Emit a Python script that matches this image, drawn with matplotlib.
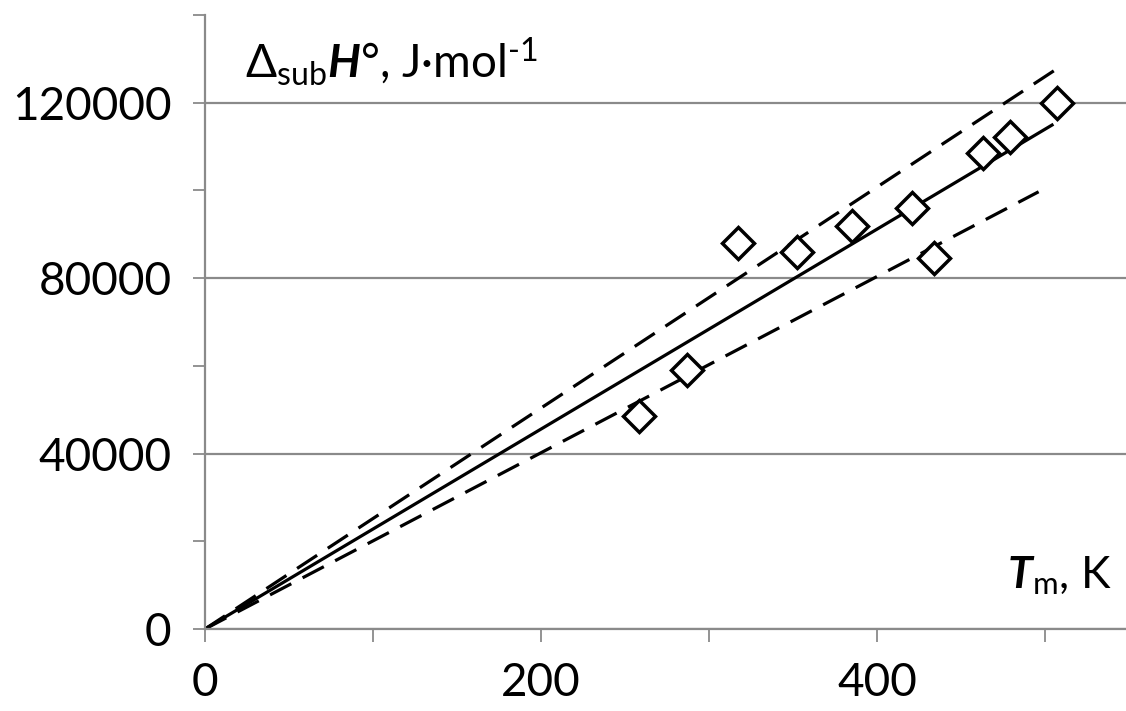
import matplotlib.pyplot as plt
import numpy as np

# data
T_m = [258.5, 287, 317, 352, 385, 420.5, 433.5, 463, 479, 507]
dH_sub = [48500, 59000, 88000, 85900, 92000, 96000, 84600, 108600, 112200, 120000]

# fitted line through origin plus upper / lower bounds
fit_x = [0, 504]
fit_slope = 228
upper_x = [0, 508]
upper_slope = 252
lower_x = [0, 496]
lower_slope = 201

plt.rcParams['font.family'] = ['Lato', 'DejaVu Sans']
plt.rcParams['mathtext.fontset'] = 'custom'
plt.rcParams['mathtext.rm'] = 'Lato'
plt.rcParams['mathtext.it'] = 'Lato:italic'
plt.rcParams['mathtext.bf'] = 'Lato:bold'
plt.rcParams['mathtext.bfit'] = 'Lato:bold:italic'

grey = '#8a8a8a'

fig = plt.figure(figsize=(11.26, 7.11), dpi=100)
ax = fig.add_axes([205 / 1126, 1 - 629 / 711, 1 - 205 / 1126, (629 - 15) / 711])

ax.plot(fit_x, [fit_slope * x for x in fit_x], color='black', lw=2.3)
for xs, k in [(upper_x, upper_slope), (lower_x, lower_slope)]:
    ax.plot(xs, [k * x for x in xs], color='black', lw=2.3, dashes=(7.5, 4))

ax.plot(T_m, dH_sub, linestyle='none', marker='D', markersize=16.5,
        markerfacecolor='white', markeredgecolor='black', markeredgewidth=2.5)

ax.set_xlim(0, 548)
ax.set_ylim(0, 140000)
ax.set_xticks([0, 200, 400])
ax.set_xticks([100, 300, 500], minor=True)
ax.set_yticks([0, 40000, 80000, 120000])
ax.set_yticks([20000, 60000, 100000, 140000], minor=True)
ax.yaxis.grid(True, which='major', color=grey, lw=1.6)
ax.set_axisbelow(True)

for s in ['top', 'right']:
    ax.spines[s].set_visible(False)
for s in ['left', 'bottom']:
    ax.spines[s].set_color(grey)
    ax.spines[s].set_linewidth(1.6)

ax.tick_params(axis='both', which='both', direction='out', length=9, width=1.3,
               color=grey, labelsize=33, pad=15)

fig.text(245 / 1126, 1 - 78 / 711, r'$\Delta_{\mathrm{sub}}\mathbfit{H}$°, J·mol$^{\text{-1}}$',
         fontsize=33, ha='left', va='baseline')
fig.text(1112 / 1126, 1 - 588 / 711, r'$\mathbfit{T}_{\mathrm{m}}$, K',
         fontsize=32, ha='right', va='baseline')

fig.savefig('out.png', dpi=100)
